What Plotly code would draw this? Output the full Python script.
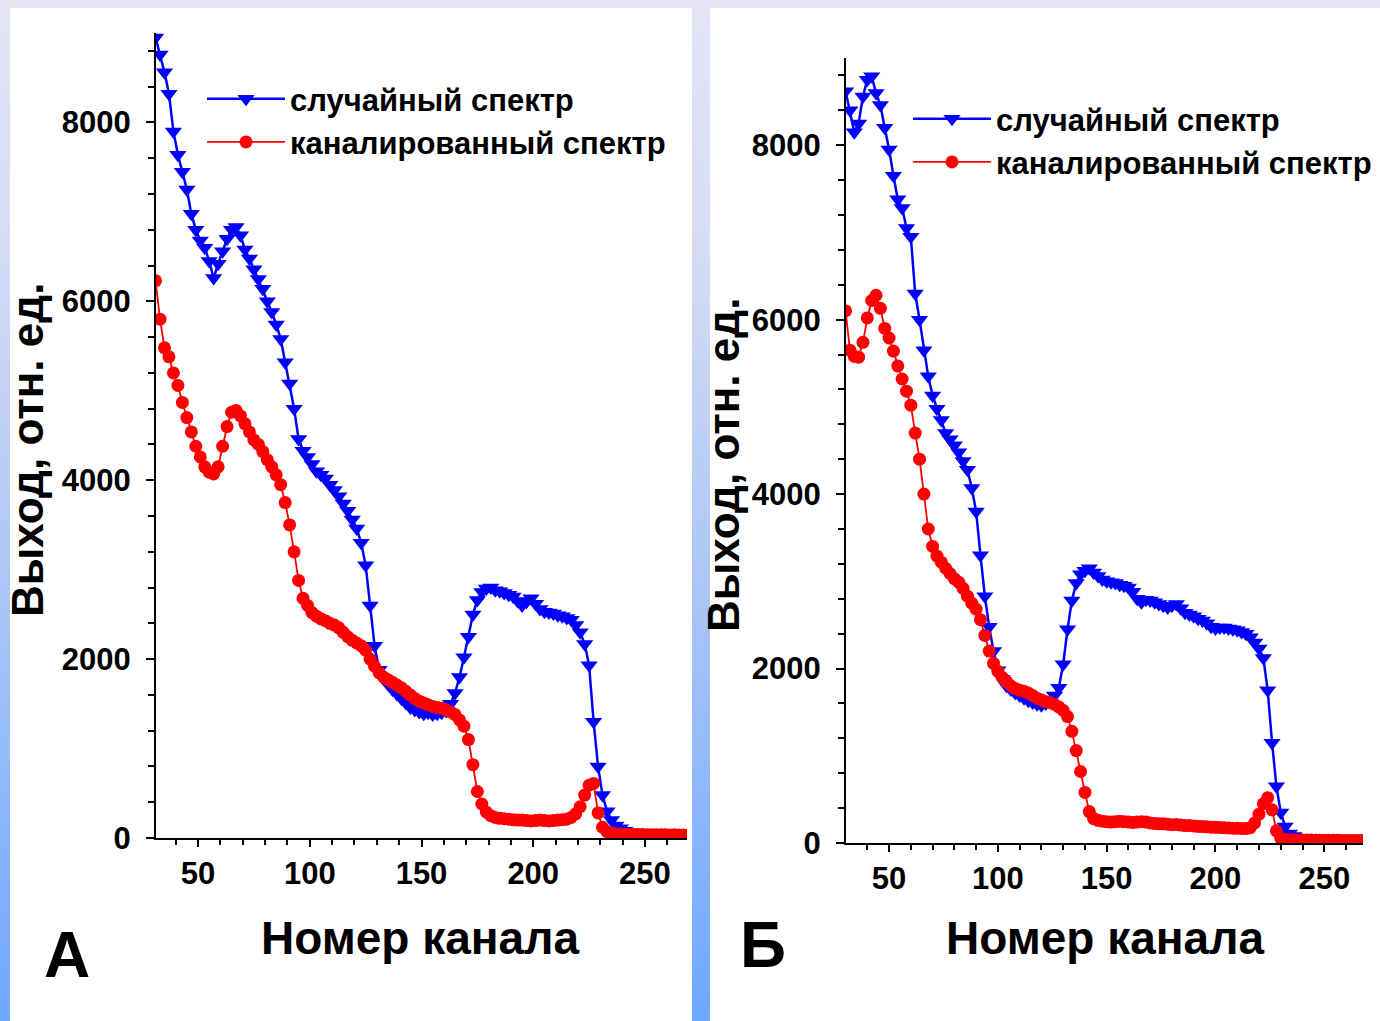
import plotly.graph_objects as go

W, H = 1380, 1021

# ---------------- data ----------------
SERIES_NAMES = ["случайный спектр", "каналированный спектр"]

CH_A = list(range(31, 270, 2))
RANDOM_A = [
    8950, 8760, 8560, 8320, 7900, 7640, 7450, 7250, 6980, 6800,
    6680, 6600, 6450, 6260, 6420, 6560, 6700, 6800, 6830, 6740,
    6580, 6480, 6360, 6250, 6140, 6000, 5880, 5740, 5580, 5320,
    5080, 4800, 4460, 4330, 4260, 4180, 4100, 4060, 4020, 3950,
    3890, 3820, 3740, 3660, 3560, 3460, 3300, 3050, 2600, 2150,
    1880, 1780, 1720, 1660, 1610, 1560, 1510, 1460, 1430, 1410,
    1390, 1400, 1380, 1390, 1400, 1420, 1500, 1620, 1800, 2020,
    2250, 2500, 2660, 2750, 2790, 2800, 2770, 2760, 2740, 2720,
    2700, 2650, 2600, 2640, 2680, 2620, 2560, 2530, 2520, 2510,
    2490, 2480, 2460, 2440, 2380, 2300, 2170, 1930, 1300, 800,
    480, 300, 200, 140, 110, 80, 60, 55, 50, 45,
    40, 42, 38, 36, 35, 34, 32, 31, 30, 30,
]
CHANNELED_A = [
    6230, 5800, 5480, 5380, 5200, 5060, 4870, 4700, 4540, 4380,
    4260, 4150, 4090, 4070, 4150, 4380, 4600, 4760, 4780, 4720,
    4630, 4540, 4450, 4400, 4320, 4230, 4150, 4060, 3950, 3750,
    3500, 3200, 2880, 2680, 2600, 2520, 2480, 2450, 2430, 2400,
    2380, 2350, 2300, 2250, 2210, 2180, 2150, 2100, 2000, 1920,
    1850, 1800, 1770, 1740, 1710, 1680, 1640, 1600, 1560, 1530,
    1510, 1490, 1470, 1460, 1450, 1430, 1410, 1380, 1320, 1250,
    1100, 820, 520, 380, 290, 250, 230, 220, 215, 210,
    205, 200, 200, 195, 190, 195, 200, 195, 190, 195,
    200, 205, 210, 230, 270, 350, 480, 590, 610, 280,
    120, 70, 55, 48, 45, 42, 40, 40, 38, 38,
    37, 36, 37, 35, 35, 34, 35, 33, 33, 32,
]

CH_B = list(range(30, 269, 2))
RANDOM_B = [
    8620, 8400, 8150, 8250, 8560, 8750, 8790, 8600, 8460, 8200,
    7950, 7650, 7380, 7280, 7050, 6950, 6300, 6000, 5650, 5350,
    5130, 4980, 4850, 4700, 4630, 4560, 4480, 4380, 4280, 4070,
    3800, 3300, 2830, 2480, 2200, 1980, 1880, 1800, 1760, 1720,
    1690, 1660, 1630, 1610, 1590, 1580, 1600, 1640, 1690, 1780,
    2050, 2450, 2780, 2980, 3080, 3120, 3150, 3100, 3060, 3020,
    3000, 2990, 2980, 2960, 2950, 2930, 2880, 2800, 2760, 2790,
    2780, 2760, 2740, 2720, 2700, 2720, 2740, 2690, 2640, 2620,
    2600, 2570, 2550, 2520, 2480, 2460, 2470, 2470, 2460, 2450,
    2440, 2420, 2400, 2360, 2300, 2230, 2120, 1750, 1150, 650,
    350, 190, 110, 80, 60, 50, 45, 42, 40, 38,
    36, 35, 34, 34, 33, 32, 32, 31, 30, 30,
]
CHANNELED_B = [
    6100, 5650, 5580, 5570, 5740, 6020, 6220, 6280, 6130, 5900,
    5790, 5640, 5470, 5320, 5180, 5020, 4700, 4400, 4000, 3600,
    3400, 3290, 3220, 3150, 3090, 3030, 2990, 2920, 2830, 2750,
    2680, 2560, 2380, 2200, 2060, 1970, 1900, 1850, 1800, 1770,
    1750, 1740, 1720, 1690, 1660, 1640, 1620, 1610, 1590, 1560,
    1520, 1450, 1280, 1060, 820, 580, 360, 280, 260, 250,
    245, 240, 245, 250, 245, 240, 235, 240, 245, 240,
    230, 225, 220, 220, 215, 210, 212, 205, 200, 200,
    195, 190, 188, 185, 182, 180, 178, 175, 172, 170,
    168, 166, 165, 175, 230, 330, 450, 520, 380, 140,
    55, 40, 36, 35, 34, 34, 33, 33, 32, 32,
    32, 31, 31, 31, 30, 30, 30, 30, 30, 30,
]

X_TITLE = "Номер канала"
Y_TITLE = "Выход, отн. ед."
PANEL_LABELS = ["А", "Б"]

# ---------------- helpers ----------------
def px(x):
    return x / W

def py(y):
    return 1 - y / H

BLUE = "#0000ff"
RED = "#ff0000"
FONT = "Liberation Sans, Arial, sans-serif"

fig = go.Figure()

def add_pair(ch, rnd, chn, xa, ya, legend):
    fig.add_trace(go.Scatter(
        x=ch, y=rnd, name=SERIES_NAMES[0], xaxis=xa, yaxis=ya, legend=legend,
        mode="lines+markers",
        line=dict(color=BLUE, width=2.5),
        marker=dict(symbol="triangle-down", size=15, color=BLUE),
    ))
    fig.add_trace(go.Scatter(
        x=ch, y=chn, name=SERIES_NAMES[1], xaxis=xa, yaxis=ya, legend=legend,
        mode="lines+markers",
        line=dict(color=RED, width=1.8),
        marker=dict(symbol="circle", size=13, color=RED),
    ))

add_pair(CH_A, RANDOM_A, CHANNELED_A, "x", "y", "legend")
add_pair(CH_B, RANDOM_B, CHANNELED_B, "x2", "y2", "legend2")

tickfont = dict(family=FONT, size=31, color="black", weight="bold")

def xaxis_main(domain, rng, anchor):
    return dict(domain=domain, range=rng, anchor=anchor, showgrid=False, zeroline=False,
                showline=True, linecolor="black", linewidth=2,
                ticks="outside", ticklen=7, tickwidth=2, tickcolor="black",
                dtick=50, tick0=0, tickfont=tickfont, ticklabelstandoff=0,
                minor=dict(dtick=10, tick0=0, ticks="outside", ticklen=5, tickwidth=1.5, tickcolor="black"),
                automargin=False, fixedrange=True)

def xaxis_over(domain, rng, anchor, over):
    return dict(domain=domain, range=rng, anchor=anchor, overlaying=over, showgrid=False,
                zeroline=False, showline=False, showticklabels=False,
                ticks="inside", ticklen=7, tickwidth=2, tickcolor="black", dtick=50, tick0=0,
                minor=dict(dtick=10, tick0=0, ticks="inside", ticklen=5, tickwidth=1.5, tickcolor="black"),
                automargin=False, fixedrange=True)

def yaxis_main(domain, anchor):
    return dict(domain=domain, range=[0, 9000], anchor=anchor, showgrid=False, zeroline=False,
                showline=True, linecolor="black", linewidth=2,
                ticks="outside", ticklen=8, tickwidth=2, tickcolor="black",
                dtick=2000, tick0=0, tickfont=tickfont, ticklabelstandoff=9,
                minor=dict(dtick=400, tick0=0, ticks="outside", ticklen=6, tickwidth=1.5, tickcolor="black"),
                automargin=False, fixedrange=True)

def yaxis_over(domain, anchor, over):
    return dict(domain=domain, range=[0, 9000], anchor=anchor, overlaying=over, showgrid=False,
                zeroline=False, showline=False, showticklabels=False,
                ticks="inside", ticklen=8, tickwidth=2, tickcolor="black", dtick=2000, tick0=0,
                minor=dict(dtick=400, tick0=0, ticks="inside", ticklen=6, tickwidth=1.5, tickcolor="black"),
                automargin=False, fixedrange=True)

dxA = [px(156), px(687)]
dyA = [py(838), py(33)]
rxA = [31.2, 268.8]
dxB = [px(846), px(1363)]
dyB = [py(843), py(58)]
rxB = [30.2, 267.8]

bg_svg = (
    "data:image/svg+xml;utf8,"
    "<svg xmlns='http://www.w3.org/2000/svg' width='1380' height='1021' preserveAspectRatio='none'>"
    "<defs><linearGradient id='g' x1='0' y1='0' x2='0' y2='1'>"
    "<stop offset='0' stop-color='%23e4e4f5'/>"
    "<stop offset='0.25' stop-color='%23d4dcf4'/>"
    "<stop offset='0.6' stop-color='%23a8c4f6'/>"
    "<stop offset='1' stop-color='%236ea8ff'/>"
    "</linearGradient></defs>"
    "<rect width='1380' height='1021' fill='url(%23g)'/></svg>"
)

legfont = dict(family=FONT, size=31, color="black", weight="bold")

fig.update_layout(
    width=W, height=H,
    margin=dict(l=0, r=0, t=0, b=0, pad=0, autoexpand=False),
    paper_bgcolor="#c8d6f4",
    plot_bgcolor="rgba(0,0,0,0)",
    showlegend=True,
    xaxis=xaxis_main(dxA, rxA, "y"),
    yaxis=yaxis_main(dyA, "x"),
    xaxis2=xaxis_main(dxB, rxB, "y2"),
    yaxis2=yaxis_main(dyB, "x2"),
    xaxis3=xaxis_over(dxA, rxA, "y", "x"),
    yaxis3=yaxis_over(dyA, "x", "y"),
    xaxis4=xaxis_over(dxB, rxB, "y2", "x2"),
    yaxis4=yaxis_over(dyB, "x2", "y2"),
    legend=dict(x=px(202), y=py(72), xanchor="left", yanchor="top", itemwidth=78,
                bgcolor="rgba(0,0,0,0)", borderwidth=0, tracegroupgap=0,
                font=legfont, itemclick=False, itemdoubleclick=False),
    legend2=dict(x=px(908), y=py(92), xanchor="left", yanchor="top", itemwidth=78,
                 bgcolor="rgba(0,0,0,0)", borderwidth=0, tracegroupgap=0,
                 font=legfont, itemclick=False, itemdoubleclick=False),
    images=[dict(source=bg_svg, xref="paper", yref="paper", x=0, y=1, sizex=1, sizey=1,
                 xanchor="left", yanchor="top", sizing="stretch", layer="below")],
    shapes=[
        dict(type="rect", xref="paper", yref="paper", x0=px(10), x1=px(692), y0=0, y1=py(8),
             fillcolor="white", line=dict(width=0), layer="below"),
        dict(type="rect", xref="paper", yref="paper", x0=px(710), x1=1, y0=0, y1=py(8),
             fillcolor="white", line=dict(width=0), layer="below"),
    ],
    hovermode=False,
)

ann = []
for cx, cy in [(27, 450), (723, 465)]:
    ann.append(dict(text=Y_TITLE, x=px(cx), y=py(cy), xref="paper", yref="paper",
                    xanchor="center", yanchor="middle", textangle=-90, showarrow=False,
                    font=dict(family=FONT, size=44, color="black", weight="bold")))
for cx, cy in [(420, 938), (1105, 938)]:
    ann.append(dict(text=X_TITLE, x=px(cx), y=py(cy), xref="paper", yref="paper",
                    xanchor="center", yanchor="middle", showarrow=False,
                    font=dict(family=FONT, size=46, color="black", weight="bold")))
for lab, (cx, cy) in zip(PANEL_LABELS, [(67, 955), (763, 945)]):
    ann.append(dict(text=lab, x=px(cx), y=py(cy), xref="paper", yref="paper",
                    xanchor="center", yanchor="middle", showarrow=False,
                    font=dict(family=FONT, size=64, color="black", weight="bold")))
fig.update_layout(annotations=ann)

fig.write_html("out.html", config={"displayModeBar": False},
               post_script="document.body.style.margin='0px';")
